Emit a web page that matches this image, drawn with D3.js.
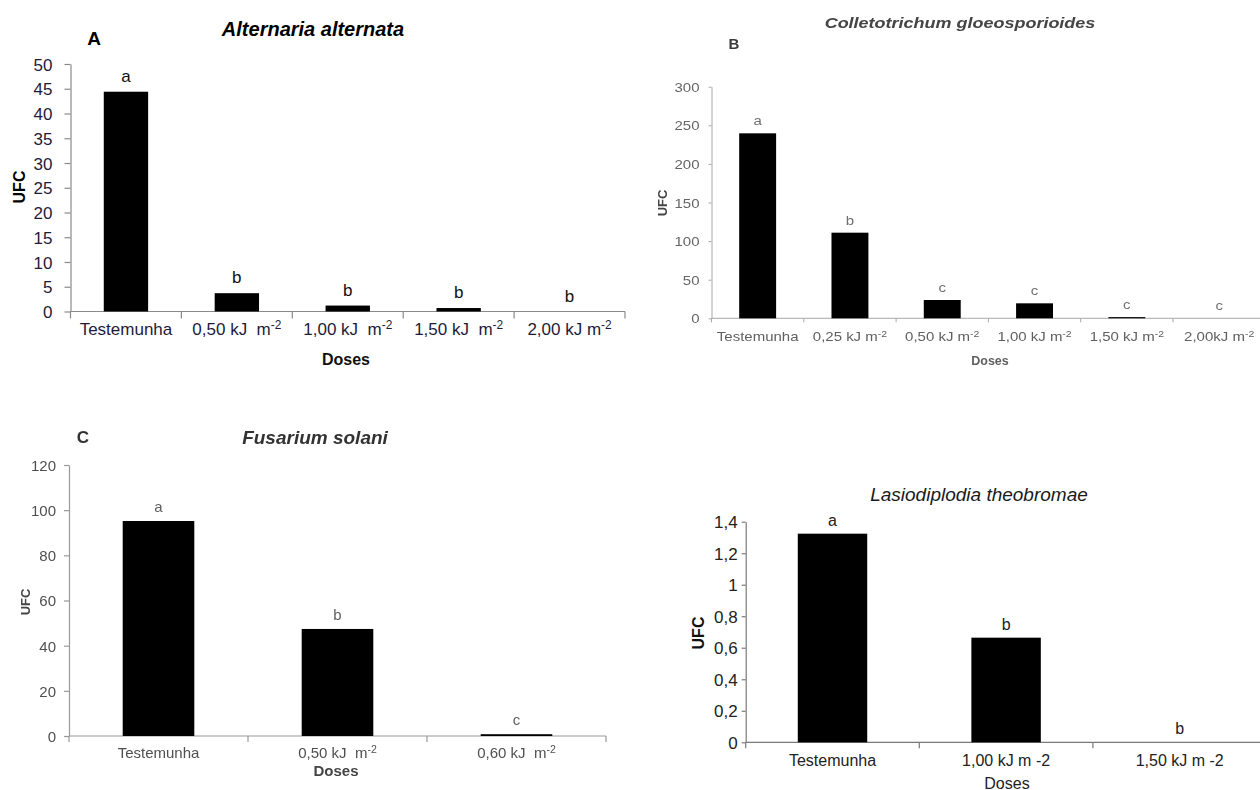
<!DOCTYPE html>
<html>
<head>
<meta charset="utf-8">
<script src="https://cdn.jsdelivr.net/npm/d3@7/dist/d3.min.js"></script>
<style>
  html, body { margin: 0; padding: 0; background: #fff; }
  svg { display: block; font-family: "Liberation Sans", Arial, sans-serif; }
  .cat { white-space: pre; }
</style>
</head>
<body>
<svg id="chart" width="1260" height="790"></svg>
<script>
// ---------- DATA ----------
const titleA = "Alternaria alternata";
const catsA = ["Testemunha", "0,50 kJ  m-2", "1,00 kJ  m-2", "1,50 kJ  m-2", "2,00 kJ m-2"];
const valuesA = [44.4, 3.7, 1.2, 0.7, 0];
const lettersA = ["a", "b", "b", "b", "b"];
const ticksA = [0, 5, 10, 15, 20, 25, 30, 35, 40, 45, 50];

const titleB = "Colletotrichum gloeosporioides";
const catsB = ["Testemunha", "0,25 kJ m-2", "0,50 kJ m-2", "1,00 kJ m-2", "1,50 kJ m-2", "2,00kJ m-2"];
const valuesB = [239.6, 110.9, 23.7, 19.4, 1.5, 0];
const lettersB = ["a", "b", "c", "c", "c", "c"];
const ticksB = [0, 50, 100, 150, 200, 250, 300];

const titleC = "Fusarium solani";
const catsC = ["Testemunha", "0,50 kJ  m-2", "0,60 kJ  m-2"];
const valuesC = [95.2, 47.4, 0.8];
const lettersC = ["a", "b", "c"];
const ticksC = [0, 20, 40, 60, 80, 100, 120];

const titleD = "Lasiodiplodia theobromae";
const catsD = ["Testemunha", "1,00 kJ m -2", "1,50 kJ m -2"];
const valuesD = [1.324, 0.664, 0];
const lettersD = ["a", "b", "b"];
const ticksD = [0, 0.2, 0.4, 0.6, 0.8, 1, 1.2, 1.4];

const xTitle = "Doses";
const yTitle = "UFC";

// ---------- DRAW ----------
const svg = d3.select("#chart");
const defs = svg.append("defs");
defs.append("filter").attr("id", "blurB").attr("x", "-5%").attr("y", "-5%").attr("width", "110%").attr("height", "110%")
  .append("feGaussianBlur").attr("stdDeviation", 0.55);
defs.append("filter").attr("id", "blurC").attr("x", "-5%").attr("y", "-5%").attr("width", "110%").attr("height", "110%")
  .append("feGaussianBlur").attr("stdDeviation", 0.35);

const commaFmt = v => String(v).replace(".", ",");

function setLabel(textSel, label, supSize) {
  const m = /^(.*m)-2$/.exec(label);
  textSel.text(null);
  if (m) {
    textSel.append("tspan").text(m[1]);
    textSel.append("tspan").attr("dy", "-0.45em").attr("font-size", supSize).text("-2");
  } else {
    textSel.text(label);
  }
}

function drawPanel(o) {
  const g = svg.append("g");
  if (o.filter) g.attr("filter", o.filter);
  const n = o.cats.length;
  const x = d3.scaleBand().domain(o.cats)
    .range([o.x0, o.x0 + n * o.step]).paddingInner(0.6).paddingOuter(0.3);
  const y = d3.scaleLinear().domain([0, o.max]).range([o.y0, o.yTop]);

  // y axis
  const ya = g.append("g").attr("transform", `translate(${o.x0},0)`)
    .call(d3.axisLeft(y).tickValues(o.ticks).tickFormat(commaFmt)
      .tickSizeInner(o.yTick).tickSizeOuter(0).tickPadding(o.yPad));
  ya.select(".domain").attr("stroke", o.axisColor).attr("stroke-width", o.axisW);
  ya.selectAll(".tick line").attr("stroke", o.axisColor).attr("stroke-width", o.axisW);
  ya.selectAll(".tick text").attr("fill", o.tickColor).attr("font-size", o.yFont)
    .attr("font-family", o.fontFamily).attr("dy", "0.36em");
  if (o.sx) ya.selectAll(".tick text").attr("transform", `scale(${o.sx},1)`);

  // x axis (labels only; separators drawn below)
  const xa = g.append("g").attr("transform", `translate(0,${o.y0})`)
    .call(d3.axisBottom(x).tickSize(0).tickPadding(o.xPad));
  xa.select(".domain").attr("stroke", o.axisColor).attr("stroke-width", o.axisW)
    .attr("d", `M${o.x0},0H${o.x0 + n * o.step}`);
  xa.selectAll(".tick text").attr("class", "cat").attr("fill", o.catColor).attr("font-size", o.xFont)
    .attr("font-family", o.fontFamily)
    .each(function (d) { setLabel(d3.select(this), d, o.xFont * 0.7); });
  if (o.sx) xa.selectAll(".tick text").attr("transform", `scale(${o.sx},1)`);

  // separator ticks
  const bounds = d3.range(n + 1).map(i => x.range()[0] + i * x.step());
  g.append("g").selectAll("line").data(bounds).join("line")
    .attr("x1", d => d).attr("x2", d => d)
    .attr("y1", o.y0).attr("y2", o.y0 + o.xTick)
    .attr("stroke", o.axisColor).attr("stroke-width", o.axisW);

  // bars
  g.append("g").selectAll("rect").data(o.values).join("rect")
    .attr("x", (d, i) => x(o.cats[i]))
    .attr("width", x.bandwidth())
    .attr("y", d => y(d))
    .attr("height", d => o.y0 - y(d))
    .attr("fill", "#000");

  // significance letters
  g.append("g").selectAll("text").data(o.values).join("text")
    .attr("x", (d, i) => x(o.cats[i]) + x.bandwidth() / 2)
    .attr("y", d => y(d) - o.letterGap)
    .attr("text-anchor", "middle")
    .attr("font-size", o.letterFont)
    .attr("font-family", o.fontFamily)
    .attr("fill", o.letterColor)
    .attr("transform", (d, i) => o.sx ? `translate(${(x(o.cats[i]) + x.bandwidth() / 2) * (1 - o.sx)},0) scale(${o.sx},1)` : null)
    .text((d, i) => o.letters[i]);

  // title
  g.append("text")
    .attr("x", o.title.x).attr("y", o.title.y)
    .attr("text-anchor", "middle").attr("dominant-baseline", "central")
    .attr("font-size", o.title.size).attr("font-style", "italic")
    .attr("font-weight", o.title.weight).attr("fill", o.title.color)
    .attr("transform", o.sx ? `translate(${o.title.x * (1 - o.sx)},0) scale(${o.sx},1)` : null)
    .text(o.title.text);

  // panel letter
  if (o.panel) {
    g.append("text").attr("x", o.panel.x).attr("y", o.panel.y)
      .attr("text-anchor", "middle").attr("dominant-baseline", "central")
      .attr("font-size", o.panel.size).attr("font-weight", "bold").attr("fill", o.panel.color)
      .text(o.panel.text);
  }

  // axis titles
  g.append("text").attr("x", o.xt.x).attr("y", o.xt.y)
    .attr("text-anchor", "middle").attr("dominant-baseline", "central")
    .attr("font-size", o.xt.size).attr("font-weight", o.xt.weight).attr("fill", o.xt.color)
    .attr("font-family", o.fontFamily)
    .text(xTitle);
  g.append("text")
    .attr("transform", `translate(${o.yt.x},${o.yt.y}) rotate(-90)`)
    .attr("text-anchor", "middle").attr("dominant-baseline", "central")
    .attr("font-size", o.yt.size).attr("font-weight", "bold").attr("fill", o.yt.color)
    .text(yTitle);
}

// Panel A
drawPanel({
  cats: catsA, values: valuesA, letters: lettersA, ticks: ticksA, max: 50,
  x0: 70.5, step: 110.9, y0: 311.5, yTop: 64,
  yTick: 6, yPad: 12, xTick: 7, xPad: 11,
  axisColor: "#8a8a8a", axisW: 1.2,
  tickColor: "#1e1b3a", catColor: "#1e1b3a", letterColor: "#111",
  yFont: 17, xFont: 17, letterFont: 17, letterGap: 10,
  fontFamily: "'Liberation Sans', Arial, sans-serif",
  title: { text: titleA, x: 313, y: 29, size: 20, weight: "bold", color: "#000" },
  panel: { text: "A", x: 94, y: 38, size: 19, color: "#000" },
  xt: { x: 346, y: 359, size: 16, weight: "bold", color: "#111" },
  yt: { x: 19, y: 187, size: 16, color: "#000" }
});

// Panel B
drawPanel({
  cats: catsB, values: valuesB, letters: lettersB, ticks: ticksB, max: 300,
  x0: 711.5, step: 92.3, y0: 318.3, yTop: 86.7,
  yTick: 3, yPad: 7, xTick: 4, xPad: 14,
  axisColor: "#a8a8a8", axisW: 1,
  tickColor: "#666", catColor: "#606060", letterColor: "#707070",
  yFont: 12.5, xFont: 12.5, letterFont: 12.5, letterGap: 8,
  fontFamily: "'Liberation Sans', Arial, sans-serif",
  sx: 1.2, filter: "url(#blurB)",
  title: { text: titleB, x: 960, y: 23, size: 15, weight: "bold", color: "#444" },
  panel: { text: "B", x: 734, y: 43, size: 15, color: "#3a3a3a" },
  xt: { x: 990, y: 361, size: 12.5, weight: "bold", color: "#606060" },
  yt: { x: 662, y: 203, size: 13, color: "#444" }
});

// Panel C
drawPanel({
  cats: catsC, values: valuesC, letters: lettersC, ticks: ticksC, max: 120,
  x0: 69, step: 179, y0: 736, yTop: 465,
  yTick: 5, yPad: 8, xTick: 6, xPad: 11,
  axisColor: "#999", axisW: 1.2,
  tickColor: "#505050", catColor: "#505050", letterColor: "#606060",
  yFont: 15, xFont: 15, letterFont: 15, letterGap: 9,
  fontFamily: "'Liberation Sans', Arial, sans-serif",
  filter: "url(#blurC)",
  title: { text: titleC, x: 315, y: 437, size: 19, weight: "bold", color: "#333" },
  panel: { text: "C", x: 83, y: 437, size: 17, color: "#333" },
  xt: { x: 336, y: 770, size: 15, weight: "bold", color: "#444" },
  yt: { x: 25, y: 602, size: 13, color: "#444" }
});

// Panel D
drawPanel({
  cats: catsD, values: valuesD, letters: lettersD, ticks: ticksD, max: 1.4,
  x0: 745.7, step: 173.6, y0: 742.3, yTop: 521.7,
  yTick: 4, yPad: 4, xTick: 6, xPad: 12,
  axisColor: "#7a7a7a", axisW: 1.2,
  tickColor: "#222", catColor: "#222", letterColor: "#222",
  yFont: 17, xFont: 16, letterFont: 16, letterGap: 8,
  fontFamily: "'Liberation Sans', Arial, sans-serif",
  title: { text: titleD, x: 979, y: 494, size: 19, weight: "normal", color: "#1a1a1a" },
  xt: { x: 1007, y: 783, size: 16, weight: "normal", color: "#222" },
  yt: { x: 698, y: 633, size: 16, color: "#111" }
});
</script>
</body>
</html>
